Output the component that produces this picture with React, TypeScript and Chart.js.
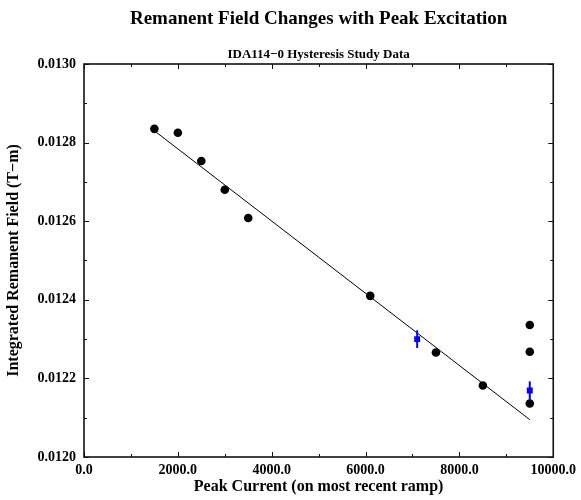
import React, { useEffect, useRef } from "react";
import { Chart, registerables } from "chart.js";

Chart.register(...registerables);

const TITLE = "Remanent Field Changes with Peak Excitation";
const SUBTITLE = "IDA114\u22120 Hysteresis Study Data";
const X_TITLE = "Peak Current (on most recent ramp)";
const Y_TITLE = "Integrated Remanent Field (T\u2212m)";

// Individual measurements (black dots)
const peakCurrents = [1500, 2000, 2500, 3000, 3500, 6100, 7500, 8500, 9500, 9500, 9500];
const remanentFields = [
  0.012835, 0.012825, 0.012753, 0.01268, 0.012608, 0.01241, 0.012266, 0.012182, 0.012336,
  0.012268, 0.012136,
];

// Averaged measurements with error bars (blue squares)
const meanCurrents = [7100, 9500];
const meanFields = [0.0123, 0.012169];
const meanErrors = [0.0000225, 0.0000235];

// Linear fit line
const fitCurrents = [1500, 9500];
const fitFields = [0.01283, 0.012095];

// Axis ranges and tick steps
const X_MIN = 0;
const X_MAX = 10000;
const X_MAJOR = 2000;
const X_MINOR = 1000;
const Y_MIN = 0.012;
const Y_MAX = 0.013;
const Y_MAJOR = 0.0002;
const Y_MINOR = 0.0001;

const FONT = "'Liberation Serif', 'Times New Roman', serif";

const errorBarPlugin = {
  id: "errorBars",
  afterDatasetsDraw(chart: any) {
    const xs = chart.scales.x;
    const ys = chart.scales.y;
    const ctx = chart.ctx;
    ctx.save();
    ctx.strokeStyle = "#0000ff";
    ctx.lineWidth = 2;
    meanCurrents.forEach((c, i) => {
      const px = xs.getPixelForValue(c);
      const y1 = ys.getPixelForValue(meanFields[i] + meanErrors[i]);
      const y2 = ys.getPixelForValue(meanFields[i] - meanErrors[i]);
      ctx.beginPath();
      ctx.moveTo(px, y1);
      ctx.lineTo(px, y2);
      ctx.stroke();
    });
    ctx.restore();
  },
};

const framePlugin = {
  id: "frame",
  afterDraw(chart: any) {
    const { left, right, top, bottom } = chart.chartArea;
    const xs = chart.scales.x;
    const ys = chart.scales.y;
    const ctx = chart.ctx;
    ctx.save();
    ctx.strokeStyle = "#111";
    ctx.lineWidth = 1;
    const nx = Math.round((X_MAX - X_MIN) / X_MINOR);
    for (let i = 0; i <= nx; i++) {
      const v = X_MIN + i * X_MINOR;
      const major = i % Math.round(X_MAJOR / X_MINOR) === 0;
      const len = major ? 5 : 3;
      const px = Math.round(xs.getPixelForValue(v)) + 0.5;
      ctx.beginPath();
      ctx.moveTo(px, bottom);
      ctx.lineTo(px, bottom - len);
      ctx.moveTo(px, top);
      ctx.lineTo(px, top + len);
      ctx.stroke();
    }
    const ny = Math.round((Y_MAX - Y_MIN) / Y_MINOR);
    for (let i = 0; i <= ny; i++) {
      const v = Y_MIN + i * Y_MINOR;
      const major = i % Math.round(Y_MAJOR / Y_MINOR) === 0;
      const len = major ? 5 : 3;
      const py = Math.round(ys.getPixelForValue(v)) + 0.5;
      ctx.beginPath();
      ctx.moveTo(left, py);
      ctx.lineTo(left + len, py);
      ctx.moveTo(right, py);
      ctx.lineTo(right - len, py);
      ctx.stroke();
    }
    ctx.lineWidth = 1.6;
    ctx.strokeRect(left, top, right - left, bottom - top);
    ctx.restore();
  },
};

export default function App() {
  const canvasRef = useRef<HTMLCanvasElement | null>(null);

  useEffect(() => {
    const canvas = canvasRef.current;
    if (!canvas) return;
    const chart = new Chart(canvas, {
      type: "scatter",
      data: {
        datasets: [
          {
            label: "fit",
            data: fitCurrents.map((x, i) => ({ x, y: fitFields[i] })),
            showLine: true,
            borderColor: "#000",
            borderWidth: 1,
            pointRadius: 0,
            fill: false,
          },
          {
            label: "measurements",
            data: peakCurrents.map((x, i) => ({ x, y: remanentFields[i] })),
            pointRadius: 4.3,
            pointBackgroundColor: "#000",
            pointBorderWidth: 0,
            borderColor: "#000",
          },
          {
            label: "averages",
            data: meanCurrents.map((x, i) => ({ x, y: meanFields[i] })),
            pointStyle: "rect",
            pointRadius: 4.2,
            pointBackgroundColor: "#0000ff",
            pointBorderWidth: 0,
            borderColor: "#0000ff",
          },
        ],
      },
      options: {
        responsive: false,
        animation: false,
        devicePixelRatio: 1,
        layout: { padding: { left: 0, right: 24, top: 0, bottom: 0 } },
        plugins: {
          legend: { display: false },
          tooltip: { enabled: false },
          title: {
            display: true,
            text: TITLE,
            fullSize: false,
            color: "#000",
            font: { family: FONT, size: 19, weight: "bold" },
            padding: { top: 7.2, bottom: 16.4 },
          },
          subtitle: {
            display: true,
            text: SUBTITLE,
            fullSize: false,
            color: "#000",
            font: { family: FONT, size: 13, weight: "bold" },
            padding: { top: 0, bottom: 2 },
          },
        },
        scales: {
          x: {
            type: "linear",
            min: X_MIN,
            max: X_MAX,
            afterFit: (s: any) => {
              s.height = 43;
            },
            grid: { display: false, drawTicks: false },
            border: { display: false },
            ticks: {
              stepSize: X_MAJOR,
              padding: 5,
              autoSkip: false,
              maxRotation: 0,
              color: "#000",
              font: { family: FONT, size: 14, weight: "bold" },
              callback: (v: any) => Number(v).toFixed(1),
            },
            title: {
              display: true,
              text: X_TITLE,
              color: "#000",
              font: { family: FONT, size: 16, weight: "bold" },
              padding: { top: 0, bottom: 4 },
            },
          },
          y: {
            type: "linear",
            min: Y_MIN,
            max: Y_MAX,
            afterFit: (s: any) => {
              s.width = 84;
            },
            grid: { display: false, drawTicks: false },
            border: { display: false },
            ticks: {
              stepSize: Y_MAJOR,
              padding: 8,
              autoSkip: false,
              color: "#000",
              font: { family: FONT, size: 14, weight: "bold" },
              callback: (v: any) => Number(v).toFixed(4),
            },
            title: {
              display: true,
              text: Y_TITLE,
              color: "#000",
              font: { family: FONT, size: 16, weight: "bold" },
              padding: { top: 4, bottom: 0 },
            },
          },
        },
      },
      plugins: [errorBarPlugin, framePlugin],
    } as any);
    return () => chart.destroy();
  }, []);

  return (
    <div style={{ position: "absolute", left: 0, top: 0, width: 581, height: 500, background: "#fff" }}>
      <canvas ref={canvasRef} width={581} height={500} style={{ display: "block" }} />
    </div>
  );
}
